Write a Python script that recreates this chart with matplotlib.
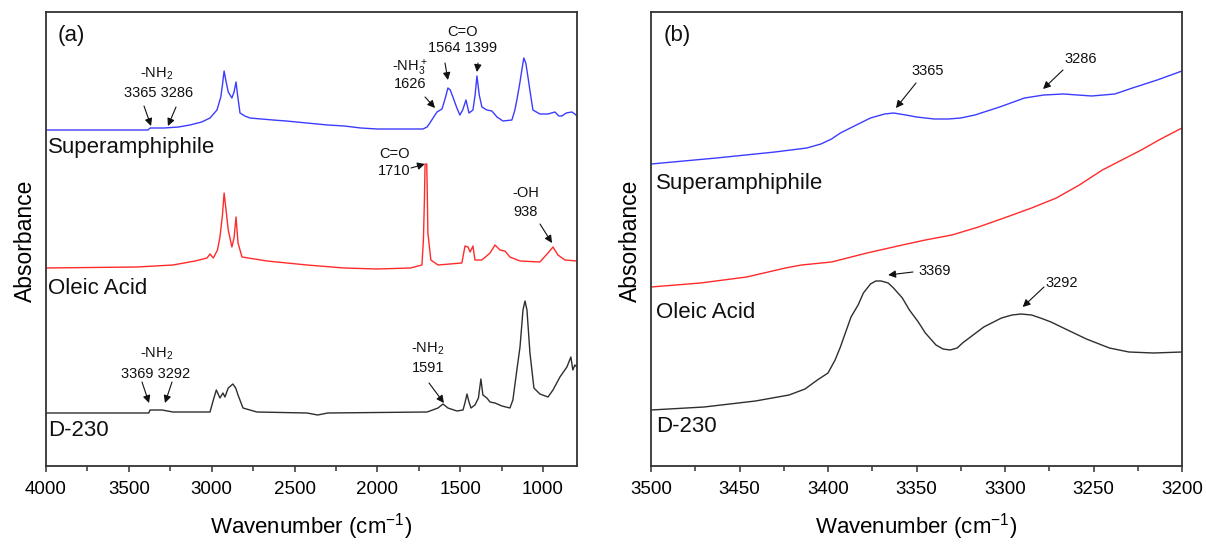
import matplotlib
matplotlib.use("Agg")
import matplotlib.pyplot as plt
from matplotlib.ticker import MultipleLocator

plt.rcParams['font.family'] = ['Liberation Sans', 'DejaVu Sans']
plt.rcParams['mathtext.fontset'] = 'custom'
plt.rcParams['mathtext.rm'] = 'Liberation Sans'
plt.rcParams['mathtext.default'] = 'regular'

# ---------------- data (a): full range spectra ----------------
wn_sa = [4000, 3400, 3385, 3371, 3286, 3200, 3131, 3060, 3010, 2968, 2945, 2935, 2925, 2915,
         2900, 2878, 2865, 2853, 2843, 2829, 2800, 2769, 2700, 2630, 2550, 2425, 2300, 2200,
         2100, 2000, 1725, 1700,
         1683, 1660, 1640, 1610, 1590, 1574, 1560, 1544, 1520, 1502, 1485, 1465, 1447, 1423,
         1410, 1399, 1385, 1369, 1339, 1309, 1278, 1242, 1188, 1170, 1158, 1140, 1128, 1116,
         1104, 1091, 1075, 1061, 1019, 970, 928, 905, 886, 860, 826, 808, 795]
ab_sa = [3.36, 3.36, 3.36, 3.38, 3.38, 3.39, 3.41, 3.44, 3.48, 3.56, 3.69, 3.81, 3.95, 3.86,
         3.74, 3.68, 3.74, 3.84, 3.70, 3.53, 3.50, 3.48, 3.47, 3.46, 3.45, 3.43, 3.41, 3.40,
         3.38, 3.37, 3.37, 3.39,
         3.43, 3.49, 3.54, 3.57, 3.68, 3.78, 3.76, 3.69, 3.58, 3.51, 3.56, 3.66, 3.53, 3.56,
         3.71, 3.90, 3.71, 3.59, 3.56, 3.55, 3.49, 3.45, 3.46, 3.56, 3.66, 3.83, 3.96, 4.08,
         4.03, 3.89, 3.71, 3.56, 3.52, 3.52, 3.54, 3.50, 3.50, 3.53, 3.54, 3.52, 3.50]

wn_oa = [4000, 3451, 3234, 3100, 3028, 3010, 2990, 2965, 2950, 2935, 2925, 2912, 2900, 2878,
         2865, 2853, 2841, 2817, 2666, 2425, 2200, 2000, 1800, 1731, 1722, 1716, 1712, 1702,
         1698, 1695, 1677, 1634, 1490, 1471, 1453, 1440, 1423, 1411, 1369, 1320, 1290, 1260,
         1230, 1200, 1139, 1019, 970, 940, 910, 868, 795]
ab_oa = [1.98, 1.99, 2.01, 2.05, 2.08, 2.12, 2.08, 2.16, 2.29, 2.51, 2.73, 2.54, 2.36, 2.19,
         2.28, 2.49, 2.23, 2.09, 2.05, 2.01, 1.98, 1.97, 1.98, 2.01, 2.26, 2.66, 3.02, 3.02,
         2.66, 2.33, 2.06, 2.01, 2.03, 2.20, 2.19, 2.14, 2.20, 2.06, 2.06, 2.13, 2.21, 2.16,
         2.15, 2.09, 2.05, 2.04, 2.13, 2.19, 2.11, 2.06, 2.05]

wn_d = [4000, 3380, 3372, 3300, 3234, 3010, 2990, 2972, 2950, 2932, 2920, 2900, 2872, 2855,
        2841, 2811, 2727, 2425, 2360, 2300, 1700, 1683, 1634, 1604, 1574, 1520, 1483, 1470,
        1459, 1447, 1435, 1411, 1390, 1375, 1363, 1339, 1320, 1290, 1248, 1200, 1182, 1158,
        1139, 1121, 1109, 1097, 1079, 1055, 1019, 970, 940, 898, 856, 832, 820, 808, 795]
ab_d = [0.53, 0.53, 0.56, 0.56, 0.54, 0.54, 0.66, 0.76, 0.68, 0.73, 0.69, 0.78, 0.82, 0.78,
        0.71, 0.58, 0.54, 0.53, 0.51, 0.53, 0.54, 0.55, 0.58, 0.62, 0.58, 0.55, 0.56, 0.64,
        0.72, 0.64, 0.58, 0.61, 0.68, 0.87, 0.71, 0.68, 0.64, 0.63, 0.60, 0.58, 0.66, 0.96,
        1.19, 1.56, 1.65, 1.56, 1.13, 0.78, 0.72, 0.69, 0.76, 0.89, 0.99, 1.09, 0.96, 1.01, 0.99]

# ---------------- data (b): 3500-3200 zoom ----------------
wnb_sa = [3500, 3463, 3430, 3412, 3404, 3398, 3393, 3384, 3376, 3368, 3363, 3356, 3350, 3340,
          3332, 3325, 3317, 3303, 3289, 3278, 3267, 3251, 3238, 3228, 3214, 3200]
abb_sa = [3.02, 3.08, 3.14, 3.18, 3.22, 3.27, 3.33, 3.41, 3.48, 3.52, 3.53, 3.51, 3.49, 3.47,
          3.47, 3.48, 3.51, 3.59, 3.68, 3.71, 3.72, 3.70, 3.72, 3.78, 3.86, 3.95]

wnb_oa = [3500, 3472, 3446, 3424, 3415, 3398, 3378, 3358, 3345, 3330, 3315, 3299, 3285, 3271,
          3258, 3245, 3234, 3223, 3212, 3200]
abb_oa = [1.79, 1.83, 1.89, 1.98, 2.01, 2.04, 2.13, 2.21, 2.26, 2.31, 2.39, 2.49, 2.58, 2.68,
          2.81, 2.96, 3.06, 3.16, 3.27, 3.38]

wnb_d = [3500, 3470, 3441, 3422, 3413, 3406, 3400, 3396, 3393, 3390, 3387, 3383, 3380, 3376,
         3373, 3370, 3366, 3363, 3358, 3354, 3349, 3345, 3339, 3335, 3331, 3327, 3324, 3318,
         3312, 3302, 3296, 3291, 3285, 3280, 3274, 3267, 3254, 3241, 3230, 3216, 3200]
abb_d = [0.56, 0.59, 0.65, 0.71, 0.77, 0.86, 0.93, 1.06, 1.19, 1.34, 1.49, 1.61, 1.73, 1.82,
         1.85, 1.85, 1.83, 1.78, 1.68, 1.56, 1.44, 1.33, 1.21, 1.17, 1.16, 1.18, 1.23, 1.31,
         1.39, 1.48, 1.51, 1.52, 1.51, 1.48, 1.44, 1.38, 1.27, 1.18, 1.14, 1.13, 1.14]

names = ['Superamphiphile', 'Oleic Acid', 'D-230']
colors = ['#3c3cff', '#ff2a2a', '#2e2e2e']

W, H = 1206, 544
fig = plt.figure(figsize=(W / 100, H / 100), dpi=100)
fig.patch.set_facecolor('white')


def fp(px, py):
    return (px / W, 1 - py / H)


def ax_rect(l, t, r, b):
    return [l / W, 1 - b / H, (r - l) / W, (b - t) / H]


axa = fig.add_axes(ax_rect(46, 12, 577, 466))
axb = fig.add_axes(ax_rect(651, 12, 1182, 466))

for x, y, c in zip([wn_sa, wn_oa, wn_d], [ab_sa, ab_oa, ab_d], colors):
    axa.plot(x, y, color=c, lw=1.0)
for x, y, c in zip([wnb_sa, wnb_oa, wnb_d], [abb_sa, abb_oa, abb_d], colors):
    axb.plot(x, y, color=c, lw=1.0)

axa.set_xlim(4000, 795)
axb.set_xlim(3500, 3200)
for ax in (axa, axb):
    ax.set_ylim(0, 4.54)
    ax.set_yticks([])
    for s in ax.spines.values():
        s.set_color('#333333')
        s.set_linewidth(1.3)
    ax.tick_params(axis='x', which='both', direction='out', top=False, labelsize=13.5,
                   color='#333333', pad=7)
    ax.tick_params(axis='x', which='major', length=4, width=1.1)
    ax.tick_params(axis='x', which='minor', length=3.5, width=1.1)
    ax.set_xlabel('Wavenumber (cm$^{-1}$)', fontsize=16)
    ax.xaxis.set_label_coords(0.5, (466 - 527) / 454)
    ax.xaxis.label.set_va('center')
    ax.set_ylabel('Absorbance', fontsize=16.5)
    ax.yaxis.set_label_coords((25 - 46) / 531, (466 - 241) / 454)
    ax.yaxis.label.set_va('center')

axa.xaxis.set_major_locator(MultipleLocator(500))
axa.xaxis.set_minor_locator(MultipleLocator(250))
axb.xaxis.set_major_locator(MultipleLocator(50))
axb.xaxis.set_minor_locator(MultipleLocator(25))


def txt(px, py, s, size=10.5, ha='center'):
    fig.text(*fp(px, py), s, fontsize=size, ha=ha, va='center', color='#111111')


def arrow(ax, xy, tail):
    ax.annotate('', xy=xy, xycoords='data', xytext=fp(*tail), textcoords='figure fraction',
                arrowprops=dict(arrowstyle='-|>', color='#111111', lw=0.8,
                                mutation_scale=11, shrinkA=0, shrinkB=0))


# panel labels and sample names
txt(71, 35, '(a)', 16)
txt(677, 35, '(b)', 16)
for (py_a, py_b), n in zip([(148, 183), (288, 312), (430, 427)], names):
    txt(48, py_a, n, 16, 'left')
    txt(656, py_b, n, 16, 'left')

# annotations (a)
txt(157, 74, '-NH$_2$')
txt(159, 93, '3365 3286')
arrow(axa, (3366, 3.40), (144, 106))
arrow(axa, (3264, 3.40), (176, 107))
txt(410, 68, '-NH$_3^+$')
txt(410, 84, '1626')
arrow(axa, (1652, 3.58), (425, 97))
txt(463, 32, 'C=O')
txt(463, 48, '1564 1399')
arrow(axa, (1574, 3.86), (445, 63))
arrow(axa, (1399, 3.94), (478, 63))
txt(394, 154, 'C=O')
txt(394, 171, '1710')
arrow(axa, (1713, 3.02), (411, 168))
txt(526, 193, '-OH')
txt(526, 212, '938')
arrow(axa, (946, 2.23), (540, 224))
txt(157, 354, '-NH$_2$')
txt(156, 374, '3369 3292')
arrow(axa, (3378, 0.63), (142, 382))
arrow(axa, (3282, 0.63), (172, 382))
txt(428, 349, '-NH$_2$')
txt(428, 368, '1591')
arrow(axa, (1598, 0.63), (429, 383))

# annotations (b)
txt(928, 71, '3365')
arrow(axb, (3361.6, 3.58), (916, 83))
txt(1081, 59, '3286')
arrow(axb, (3278.5, 3.77), (1063, 70))
txt(935, 271, '3369')
arrow(axb, (3366, 1.91), (913, 272))
txt(1062, 283, '3292')
arrow(axb, (3290, 1.59), (1044, 287))

fig.savefig('out.png', dpi=100)
